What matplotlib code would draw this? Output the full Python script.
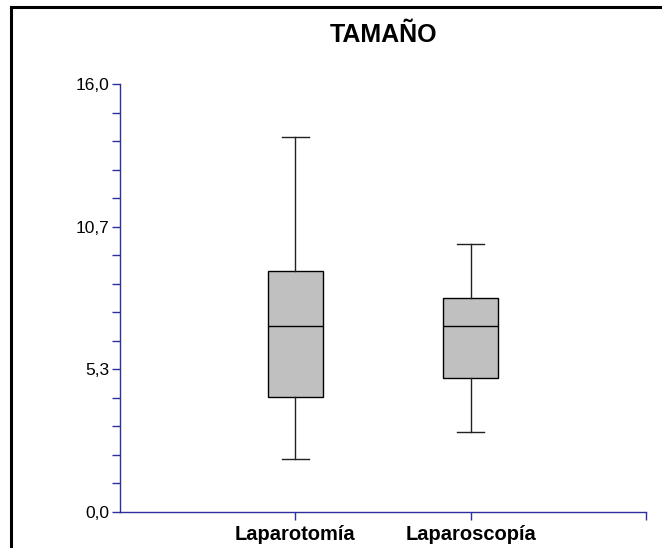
import numpy as np
import matplotlib.pyplot as plt
from matplotlib.lines import Line2D

plt.rcParams['font.family'] = ['Liberation Sans', 'DejaVu Sans']

# box summaries
groups = ['Laparotomía', 'Laparoscopía']
whislo = [2.0, 3.0]
q1 = [4.3, 5.0]
med = [6.95, 6.95]
q3 = [9.0, 8.0]
whishi = [14.0, 10.0]

yticks = [0.0, 16/3, 32/3, 16.0]
ylabels = ['0,0', '5,3', '10,7', '16,0']

stats = []
for i in range(len(groups)):
    stats.append(dict(label=groups[i], whislo=whislo[i], q1=q1[i], med=med[i],
                      q3=q3[i], whishi=whishi[i], fliers=[]))

fig = plt.figure(figsize=(6.62, 5.48), dpi=100)
ax = fig.add_axes([120/662, 36/548, 526/662, 428/548])

ax.bxp(stats, positions=[1, 2], widths=0.314, patch_artist=True,
       showfliers=False,
       boxprops=dict(facecolor='#c0c0c0', edgecolor='black', linewidth=1.0),
       medianprops=dict(color='black', linewidth=1.0),
       whiskerprops=dict(color='#222222', linewidth=1.0),
       capprops=dict(color='#222222', linewidth=1.0),
       capwidths=0.157)

ax.set_xlim(0, 3)
ax.set_ylim(0, 16)
ax.set_xticks([1, 2, 3])
ax.set_xticklabels(groups + [''], fontsize=14.5, fontweight='bold')
ax.set_yticks(yticks)
ax.set_yticklabels(ylabels, fontsize=12.5)
ax.set_yticks(np.arange(0, 16.01, 16/15), minor=True)

blue = '#2e2e9e'
for s in ['top', 'right']:
    ax.spines[s].set_visible(False)
for s in ['left', 'bottom']:
    ax.spines[s].set_color(blue)
    ax.spines[s].set_linewidth(1.0)
ax.tick_params(axis='y', which='both', length=6, color=blue, width=1.0, pad=1.5)
ax.tick_params(axis='x', length=6, color=blue, width=1.0, pad=3)

fig.text(383/662, 1 - 35/548, 'TAMAÑO', ha='center', va='center',
         fontsize=18, fontweight='bold')

# outer frame: only the left and top edges show
fx = 11/662
fy = 1 - 7/548
fig.add_artist(Line2D([fx, fx], [0, fy], transform=fig.transFigure,
                      color='black', linewidth=2.2, solid_capstyle='projecting'))
fig.add_artist(Line2D([fx, 1], [fy, fy], transform=fig.transFigure,
                      color='black', linewidth=2.2, solid_capstyle='projecting'))

fig.savefig('out.png', dpi=100)
